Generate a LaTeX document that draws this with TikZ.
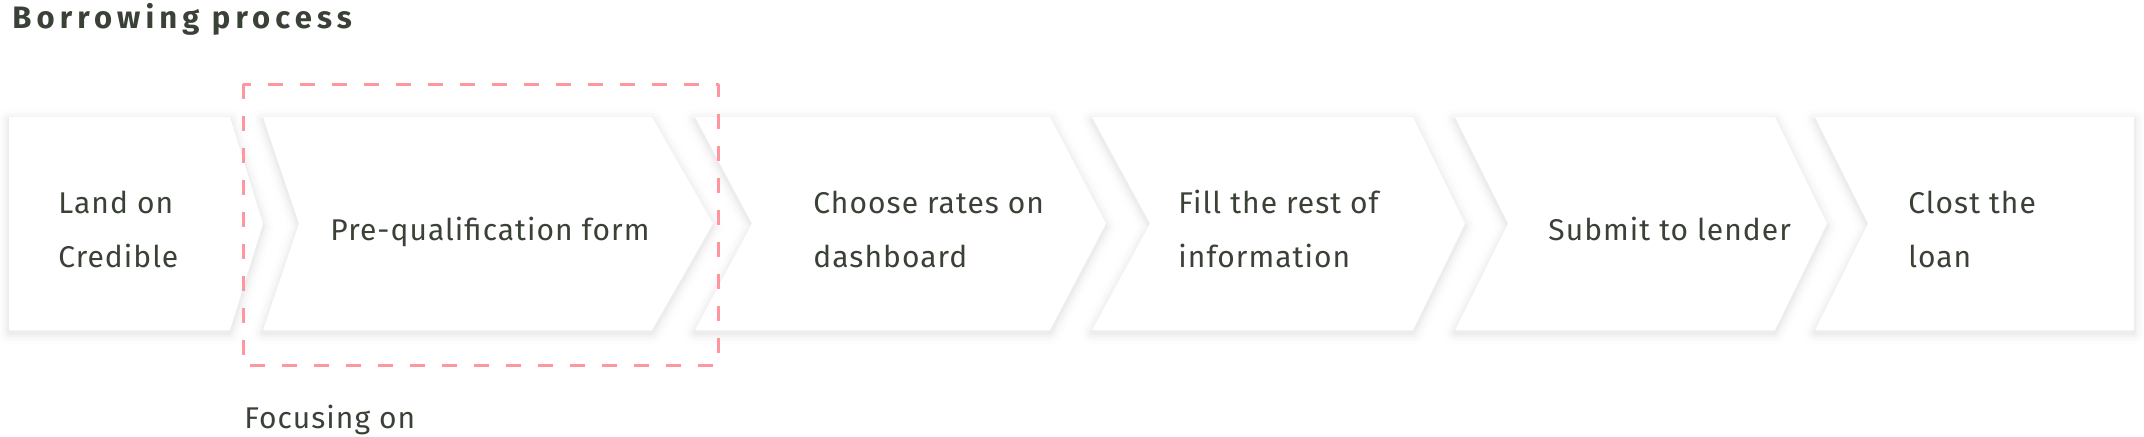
\documentclass[tikz,border=0pt]{standalone}
\usepackage{fontspec}
\setmainfont{Fira Sans}
\newfontfamily\stagefont[LetterSpace=3.5]{Fira Sans}
\newfontfamily\headfont[LetterSpace=16.5]{Fira Sans}
\usetikzlibrary{positioning}
\definecolor{inkgreen}{HTML}{3A4237}
\definecolor{focuspink}{HTML}{FF95A0}
\tikzset{
	stagetext/.style = {anchor=base west, inner sep=0pt, align=left, text=inkgreen,
		font=\stagefont\fontsize{15}{27}\selectfont},
	headtext/.style  = {anchor=base west, inner sep=0pt, text=inkgreen,
		font=\headfont\fontsize{15.5}{18}\selectfont\bfseries},
	focusbox/.style  = {draw=focuspink, line width=1.5pt, dash pattern=on 7.5pt off 8.5pt},
}
% one chevron: left, notch, right, tip (pixels)
\newcommand{\stagepath}[4]{(#1,117) -- (#3,117) -- (#4,223.5) -- (#3,330) -- (#1,330) -- (#2,223.5) -- cycle}

\begin{document}
\begin{tikzpicture}[ x=0.5pt,                      %<--one unit is one pixel
					y=-0.5pt,                     %<--y runs downwards
					line join=round ]

	\useasboundingbox (0,0) rectangle (2144,436);

	%Drawing the Shadows:
	\foreach \l/\n/\r/\t in {9/9/230/263, 263/299/652/713, 695/752/1050/1106,
			1092/1150/1413/1465, 1455/1508/1775/1827, 1815/1868/2134/2134}{
		\foreach \w/\o in {22/0.009, 15/0.014, 9/0.019, 4/0.026}
			\draw[black, line width=\w*0.5pt, draw opacity=\o, yshift=-1.5pt] \stagepath{\l}{\n}{\r}{\t};
	}
	%Drawing the Stages:
	\foreach \l/\n/\r/\t in {9/9/230/263, 263/299/652/713, 695/752/1050/1106,
			1092/1150/1413/1465, 1455/1508/1775/1827, 1815/1868/2134/2134}
		\fill[white] \stagepath{\l}{\n}{\r}{\t};

	\draw%-----------------------------------------------------------------------------------------
	%Drawing the Title:
	node(title) at (12,28) [headtext] {Borrowing process}
	%Drawing the Stage Labels (base is the last line):
	node(land) at (58,267) [stagetext] {Land on\\Credible}
	node(prequal) at (330,240) [stagetext] {Pre-qualification form}
	node(rates) at (813,267) [stagetext] {Choose rates on\\dashboard}
	node(fill) at (1178,267) [stagetext] {Fill the rest of\\information}
	node(submit) at (1548,240) [stagetext] {Submit to lender}
	node(close) at (1908,267) [stagetext] {Clost the\\loan}
	%Drawing the Focus Note:
	node(focusnote) at (244,428) [stagetext] {Focusing on}
	;%---------------------------------------------------------------------------------------------

	%Framing the focused stage
	\draw[focusbox] (243,84) rectangle (718,365);

\end{tikzpicture}
\end{document}
